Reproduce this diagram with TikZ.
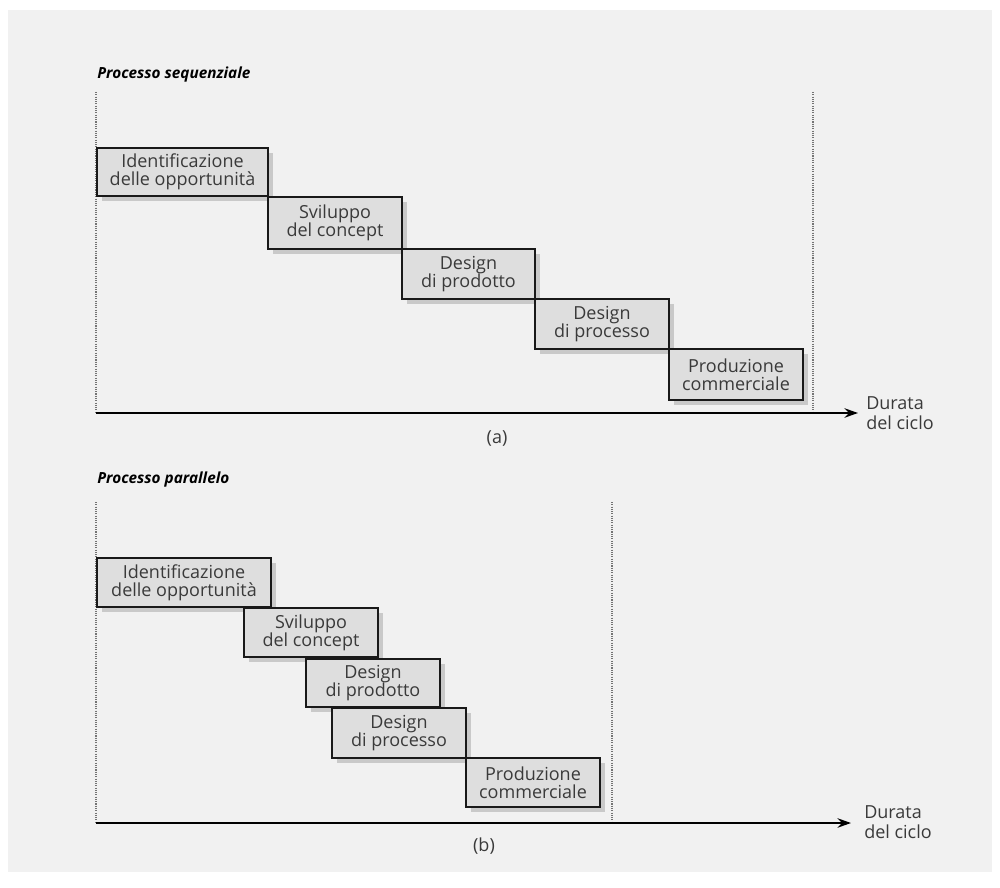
\documentclass[tikz,border=0pt]{standalone}
\usepackage{fontspec}
\setmainfont{Open Sans}
\setsansfont{Open Sans}
\usetikzlibrary{shadows,arrows.meta}

\definecolor{pagegray}{HTML}{F1F1F1}
\definecolor{boxgray}{HTML}{DEDEDE}
\definecolor{inkgray}{HTML}{3A3A3A}

\tikzset{
  phase/.style={draw=black!90, line width=1.7pt, fill=boxgray, inner sep=0pt,
    align=center, text=inkgray, font=\fontsize{13.5}{13.5}\selectfont,
    drop shadow={shadow xshift=3.5pt, shadow yshift=-3.5pt, opacity=0.35, fill=gray}},
  guide/.style={draw=black!55, line width=1.3pt, dash pattern=on 0.8pt off 0.9pt},
  timeaxis/.style={draw=black, line width=1.6pt, -{Stealth[length=10pt,width=7pt]}},
  paneltitle/.style={anchor=west, inner sep=0pt, font=\fontsize{11.5}{13}\selectfont\bfseries\itshape},
  axislabel/.style={anchor=west, inner sep=0pt, align=left, text=inkgray,
    font=\fontsize{13.5}{15}\selectfont},
  caption/.style={inner sep=0pt, text=inkgray, font=\fontsize{13.5}{14}\selectfont}
}

% \phasebox{name}{left}{top}{right}{bottom}{text}, corners in pixel units
\newcommand\phasebox[6]{%
  \node[phase, minimum width={(#4-#2)*0.75pt}, minimum height={(#5-#3)*0.75pt}]
    (#1) at ({(#2+#4)/2},{(#3+#5)/2}) {#6};}

\begin{document}
\begin{tikzpicture}[x=0.75pt, y=-0.75pt]
  \useasboundingbox (0,0) rectangle (1000,888);
  \fill[white] (0,0) rectangle (1000,888);
  \fill[pagegray] (8,10) rectangle (992,872);

  % ---- (a) sequential process ----
  \node[paneltitle] (ta) at (97,75) {Processo sequenziale};
  \coordinate (oa) at (96,413);
  \coordinate (ea) at (858,413);
  \coordinate (la) at (96,92);
  \coordinate (ra) at (813,92);
  \coordinate (rab) at (813,413);
  \draw[guide] (la) -- (oa);
  \draw[guide] (ra) -- (rab);

  \phasebox{a1}{97}{148}{268}{196}{Identificazione\\delle opportunità}
  \phasebox{a2}{268}{197}{402}{249}{Sviluppo\\del concept}
  \phasebox{a3}{402}{249}{535}{299}{Design\\di prodotto}
  \phasebox{a4}{535}{299}{669}{349}{Design\\di processo}
  \phasebox{a5}{669}{349}{803}{400}{Produzione\\commerciale}

  \draw[timeaxis] (oa) -- (ea);
  \node[axislabel] (da) at (866,413) {Durata\\del ciclo};
  \node[caption] (ca) at (497,438) {(a)};

  % ---- (b) parallel process ----
  \node[paneltitle] (tb) at (97,480) {Processo parallelo};
  \coordinate (ob) at (96,823);
  \coordinate (eb) at (851,823);
  \coordinate (lb) at (96,502);
  \coordinate (rb) at (612,502);
  \coordinate (rbb) at (612,823);
  \draw[guide] (lb) -- (ob);
  \draw[guide] (rb) -- (rbb);

  \phasebox{b1}{97}{558}{271}{607}{Identificazione\\delle opportunità}
  \phasebox{b2}{244}{608}{378}{657}{Sviluppo\\del concept}
  \phasebox{b3}{306}{659}{440}{707}{Design\\di prodotto}
  \phasebox{b4}{332}{708}{466}{758}{Design\\di processo}
  \phasebox{b5}{466}{758}{600}{807}{Produzione\\commerciale}

  \draw[timeaxis] (ob) -- (eb);
  \node[axislabel] (db) at (864,822) {Durata\\del ciclo};
  \node[caption] (cb) at (484,846) {(b)};
\end{tikzpicture}
\end{document}
